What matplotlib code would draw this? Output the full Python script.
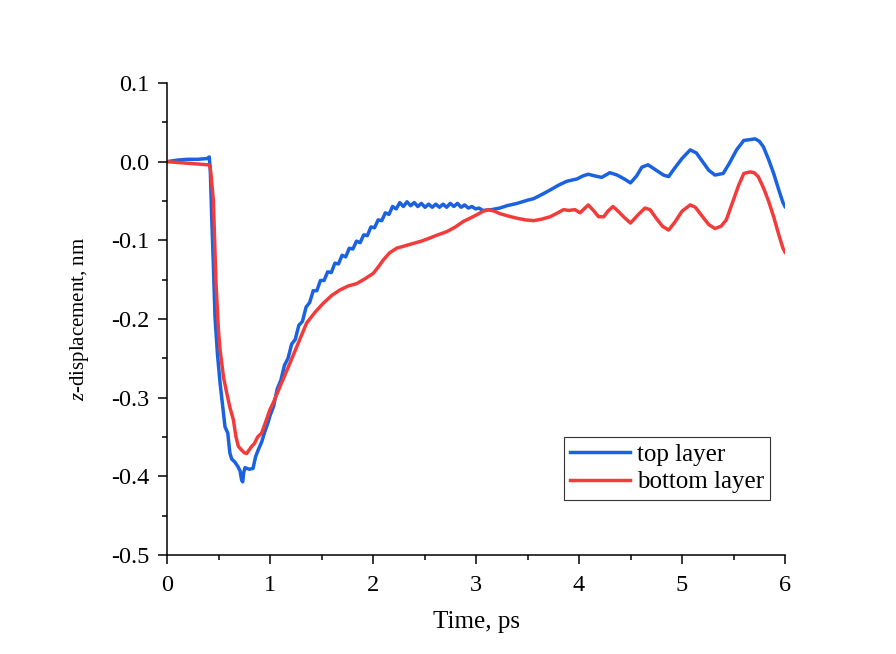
import matplotlib
matplotlib.use("Agg")
import matplotlib.pyplot as plt
from matplotlib.ticker import MultipleLocator

plt.rcParams['font.family'] = ['Liberation Serif', 'DejaVu Serif']
plt.rcParams['mathtext.fontset'] = 'custom'
plt.rcParams['mathtext.it'] = 'Liberation Serif:italic'
plt.rcParams['mathtext.rm'] = 'Liberation Serif'

# top layer (blue)
t_top = [0.0, 0.1, 0.2, 0.3, 0.39, 0.41, 0.42, 0.434, 0.45, 0.466, 0.49, 0.515,
         0.54, 0.563, 0.59, 0.61, 0.628, 0.66, 0.69, 0.709, 0.725, 0.735, 0.745,
         0.757, 0.80, 0.835, 0.86, 0.887, 0.92, 0.95, 0.98,
         1.000, 1.035, 1.070, 1.105, 1.140, 1.175, 1.210, 1.245, 1.280, 1.315,
         1.350, 1.385, 1.420, 1.455, 1.490, 1.525, 1.560, 1.595, 1.630, 1.665,
         1.700, 1.735, 1.770, 1.805, 1.840, 1.875, 1.910, 1.945, 1.980, 2.015,
         2.050, 2.085, 2.120, 2.155, 2.190, 2.225, 2.260, 2.295, 2.330, 2.365,
         2.400, 2.435, 2.470, 2.505, 2.540, 2.575, 2.610, 2.645, 2.680, 2.715,
         2.750, 2.785, 2.820, 2.855, 2.890, 2.925, 2.960, 2.995, 3.030, 3.065,
         3.15, 3.23, 3.30, 3.40, 3.50, 3.56, 3.65, 3.72, 3.80, 3.88, 3.98, 4.04,
         4.09, 4.15, 4.22, 4.30, 4.37, 4.44, 4.50, 4.56, 4.61, 4.67, 4.74, 4.82,
         4.87, 4.93, 5.00, 5.08, 5.14, 5.20, 5.26, 5.32, 5.40, 5.46, 5.53, 5.60,
         5.66, 5.71, 5.75, 5.79, 5.84, 5.89, 5.94, 5.98, 6.00]
z_top = [0.0, 0.002, 0.003, 0.003, 0.004, 0.006, -0.01, -0.07, -0.13, -0.197, -0.245, -0.281,
         -0.31, -0.337, -0.345, -0.370, -0.378, -0.382, -0.388, -0.393, -0.405, -0.407, -0.395,
         -0.389, -0.391, -0.390, -0.375, -0.366, -0.356, -0.343, -0.332,
         -0.323, -0.311, -0.289, -0.278, -0.259, -0.250, -0.232, -0.226, -0.208, -0.203,
         -0.185, -0.179, -0.164, -0.164, -0.151, -0.151, -0.140, -0.141, -0.129, -0.130,
         -0.119, -0.121, -0.110, -0.111, -0.101, -0.103, -0.093, -0.094, -0.083, -0.084,
         -0.074, -0.075, -0.065, -0.067, -0.057, -0.060, -0.052, -0.057, -0.051, -0.056,
         -0.052, -0.057, -0.053, -0.058, -0.054, -0.058, -0.054, -0.058, -0.054, -0.058,
         -0.053, -0.057, -0.053, -0.058, -0.055, -0.059, -0.057, -0.060, -0.059, -0.062,
         -0.061, -0.059, -0.056, -0.053, -0.049, -0.047, -0.041, -0.036, -0.030, -0.025, -0.022, -0.018,
         -0.016, -0.018, -0.020, -0.014, -0.017, -0.022, -0.027, -0.018, -0.007, -0.004, -0.010, -0.017,
         -0.019, -0.008, 0.004, 0.015, 0.011, 0.000, -0.011, -0.017, -0.015, -0.002, 0.015, 0.027,
         0.028, 0.029, 0.026, 0.019, 0.003, -0.015, -0.036, -0.052, -0.057]

# bottom layer (red)
t_bot = [0.0, 0.2, 0.4, 0.417, 0.43, 0.45, 0.476, 0.50, 0.515, 0.55, 0.58, 0.61,
         0.644, 0.67, 0.693, 0.72, 0.75, 0.774, 0.80, 0.822, 0.85, 0.88, 0.919, 0.96,
         1.0, 1.03, 1.1, 1.194, 1.27, 1.356, 1.44, 1.517, 1.6, 1.68, 1.76, 1.842,
         1.92, 2.003, 2.05, 2.1, 2.16, 2.23, 2.31, 2.39, 2.47, 2.553, 2.63, 2.716,
         2.8, 2.877, 2.94, 3.0, 3.07, 3.12, 3.18, 3.23, 3.31, 3.40, 3.48, 3.56,
         3.64, 3.72, 3.78, 3.85, 3.90, 3.96, 4.01, 4.05, 4.09, 4.14, 4.19, 4.24,
         4.28, 4.33, 4.38, 4.44, 4.50, 4.57, 4.64, 4.69, 4.75, 4.81, 4.87, 4.93,
         5.0, 5.08, 5.13, 5.2, 5.26, 5.32, 5.38, 5.43, 5.49, 5.55, 5.60, 5.66,
         5.70, 5.74, 5.79, 5.84, 5.89, 5.94, 5.98, 6.0]
z_bot = [0.0, -0.002, -0.004, -0.005, -0.02, -0.049, -0.155, -0.215, -0.239, -0.275, -0.294, -0.312,
         -0.328, -0.350, -0.362, -0.366, -0.370, -0.371, -0.366, -0.362, -0.358, -0.350, -0.345, -0.330,
         -0.315, -0.307, -0.285, -0.256, -0.232, -0.205, -0.191, -0.180, -0.170, -0.163, -0.158, -0.155,
         -0.149, -0.142, -0.134, -0.125, -0.116, -0.110, -0.107, -0.104, -0.101, -0.097, -0.093, -0.089,
         -0.083, -0.076, -0.072, -0.068, -0.063, -0.061, -0.063, -0.066, -0.069, -0.072, -0.074, -0.075,
         -0.073, -0.070, -0.066, -0.061, -0.062, -0.061, -0.065, -0.060, -0.055, -0.062, -0.070, -0.070,
         -0.063, -0.057, -0.063, -0.071, -0.078, -0.068, -0.059, -0.061, -0.072, -0.082, -0.087, -0.077,
         -0.063, -0.055, -0.058, -0.070, -0.080, -0.085, -0.082, -0.074, -0.052, -0.030, -0.015, -0.013,
         -0.014, -0.019, -0.033, -0.050, -0.070, -0.093, -0.110, -0.115]

fig = plt.figure(figsize=(8.96, 6.54), dpi=100)
ax = fig.add_axes([167 / 896, 1 - 555 / 654, 618 / 896, 472 / 654])

ax.plot(t_top, z_top, color='#1a62e0', lw=2.5, label='top layer')
ax.plot(t_bot, z_bot, color='#f23c3c', lw=2.5, label='bottom layer')

ax.set_xlim(0, 6)
ax.set_ylim(-0.5, 0.1)
ax.xaxis.set_major_locator(MultipleLocator(1))
ax.xaxis.set_minor_locator(MultipleLocator(0.5))
ax.yaxis.set_major_locator(MultipleLocator(0.1))
ax.yaxis.set_minor_locator(MultipleLocator(0.05))
ax.yaxis.set_major_formatter(plt.FuncFormatter(lambda v, p: '%.1f' % v))

for s in ['top', 'right']:
    ax.spines[s].set_visible(False)
for s in ['left', 'bottom']:
    ax.spines[s].set_linewidth(1.1)
ax.tick_params(which='major', direction='out', length=6.5, width=1.1, labelsize=17.5, pad=6)
ax.tick_params(axis='x', which='major', pad=8)
ax.tick_params(which='minor', direction='out', length=3.5, width=1.1)

ax.set_xlabel('Time, ps', fontsize=18)
ax.set_ylabel(r'$z$-displacement, nm', fontsize=15)
ax.xaxis.set_label_coords(0.5, -0.119)
ax.yaxis.set_label_coords(-0.123, 0.5)

leg = ax.legend(loc='upper right', bbox_to_anchor=(770 / 896, 1 - 437 / 654),
                bbox_transform=fig.transFigure, borderaxespad=0, fontsize=18,
                fancybox=False, framealpha=1, edgecolor='#333333',
                handlelength=2.4, handletextpad=0.25, borderpad=0.25,
                labelspacing=0.2)
leg.get_frame().set_linewidth(0.8)

fig.savefig('out.png', dpi=100)
